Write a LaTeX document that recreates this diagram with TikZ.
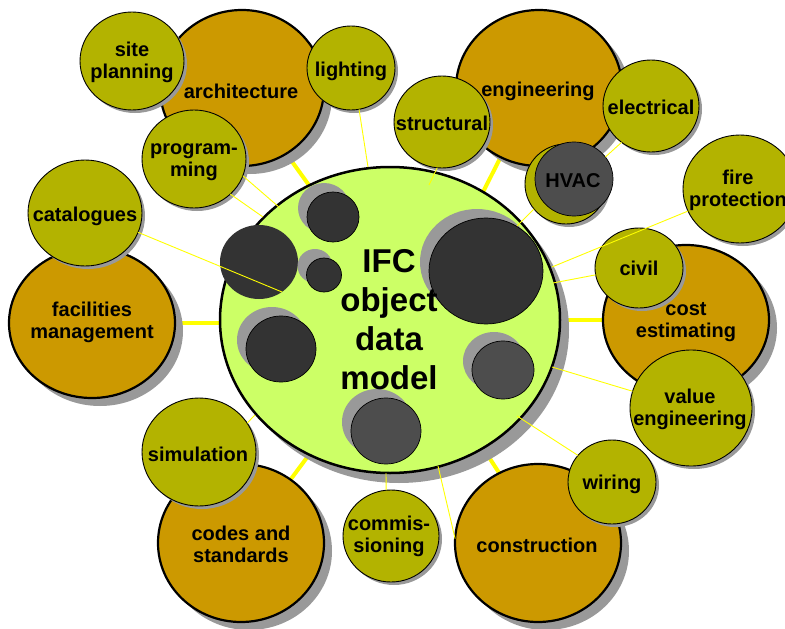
\documentclass[tikz,border=0pt]{standalone}
\usepackage{fontspec}
\setmainfont{Liberation Sans}
\usetikzlibrary{shapes.geometric,shadows}
\definecolor{orng}{HTML}{CC9900}
\definecolor{olv}{HTML}{B3B300}
\definecolor{limec}{HTML}{CCFF66}
\definecolor{dkA}{HTML}{333333}
\definecolor{dkB}{HTML}{4D4D4D}
\definecolor{shgray}{HTML}{999999}
\definecolor{yel}{HTML}{FFFF00}
\pgfdeclarelayer{background}
\pgfsetlayers{background,main}
\begin{document}
\begin{tikzpicture}[x=1pt,y=-1pt,
  ell/.style={ellipse, inner sep=0pt, outer sep=0pt},
  sz/.style n args={2}{minimum width=#1pt, minimum height=#2pt},
  orangec/.style={ell, fill=orng, draw=black, line width=2.2pt,
    drop shadow={shadow xshift=8pt, shadow yshift=-8pt, fill=shgray, draw=none, opacity=1}},
  olivec/.style={ell, fill=olv, draw=black, line width=0.9pt,
    drop shadow={shadow xshift=3pt, shadow yshift=-3pt, fill=shgray, draw=none, opacity=1}},
  mainc/.style={ell, fill=limec, draw=black, line width=2.5pt,
    drop shadow={shadow xshift=9pt, shadow yshift=-10pt, fill=shgray, draw=none, opacity=1}},
  darkc/.style={ell, fill=#1, draw=black, line width=0.7pt,
    drop shadow={shadow xshift=-9pt, shadow yshift=9pt, fill=shgray, draw=none, opacity=1}},
  lbl/.style={font=\bfseries\fontsize{20}{22}\selectfont, align=center, inner sep=0pt},
  ttl/.style={font=\bfseries\fontsize{33}{39}\selectfont, align=center, inner sep=0pt},
  thick link/.style={draw=yel, line width=4pt},
  thin link/.style={draw=yel, line width=0.9pt}
]
\useasboundingbox (0,0) rectangle (785,629);
\clip (0,0) rectangle (785,629);

% central model
\node[mainc, sz={340}{306}] (main) at (390,320) {};
\node[darkc=dkA, sz={52}{50}] (d1) at (333,217) {};
\node[ell, fill=dkA, sz={78}{74}] (d2) at (259,262) {};
\node[darkc=dkA, sz={35}{34}] (d3) at (324,275) {};
\node[darkc=dkA, sz={114}{106}] (d4) at (486,271) {};
\node[darkc=dkA, sz={70}{66}] (d5) at (281,349) {};
\node[darkc=dkB, sz={62}{58}] (d6) at (503,370) {};
\node[darkc=dkB, sz={70}{66}] (d7) at (386,431) {};
\node[ttl] (title) at (389,320) {IFC\\object\\data\\model};

% architecture group
\node[orangec, sz={164}{156}] (arch) at (242,88) {};
\node[lbl] (archT) at (241,91) {architecture};
\node[olivec, sz={104}{98}] (site) at (132,61) {};
\node[lbl] (siteT) at (132,62) {site\\planning};
\node[olivec, sz={88}{84}] (light) at (351,68) {};
\node[lbl] (lightT) at (351,71) {lighting};
\node[olivec, sz={104}{98}] (prog) at (194,159) {};
\node[lbl] (progT) at (194,162) {program-\\ming};

% engineering group
\node[orangec, sz={166}{156}] (eng) at (539,88) {};
\node[lbl] (engT) at (538,91) {engineering};
\node[olivec, sz={96}{92}] (struct) at (442,122) {};
\node[lbl] (structT) at (442,123) {structural};
\node[olivec, sz={96}{92}] (elec) at (651,106) {};
\node[lbl] (elecT) at (651,107) {electrical};
\node[olivec, sz={82}{80}] (hvacbg) at (566,184) {};
\node[ell, fill=dkB, draw=black, line width=0.7pt, sz={78}{74}] (hvac) at (574,179) {};
\node[lbl] (hvacT) at (573,181) {HVAC};

% facilities management
\node[orangec, sz={166}{150}] (fm) at (92,323) {};
\node[lbl] (fmT) at (92,322) {facilities\\management};
\node[olivec, sz={114}{106}] (cat) at (85,213) {};
\node[lbl] (catT) at (85,216) {catalogues};

% cost estimating
\node[orangec, sz={166}{150}] (cost) at (686,320) {};
\node[lbl] (costT) at (686,322) {cost\\estimating};
\node[olivec, sz={88}{80}] (civil) at (639,268) {};
\node[lbl] (civilT) at (639,268) {civil};
\node[olivec, sz={122}{116}] (value) at (691,408) {};
\node[lbl] (valueT) at (690,409) {value\\engineering};

% fire protection
\node[olivec, sz={114}{108}] (fire) at (740,189) {};
\node[lbl] (fireT) at (738,190) {fire\\protection};

% construction
\node[orangec, sz={166}{158}] (constr) at (538,543) {};
\node[lbl] (constrT) at (537,545) {construction};
\node[olivec, sz={88}{84}] (wiring) at (612,482) {};
\node[lbl] (wiringT) at (612,484) {wiring};

% commissioning
\node[olivec, sz={96}{92}] (comm) at (391,536) {};
\node[lbl] (commT) at (389,536) {commis-\\sioning};

% codes and standards
\node[orangec, sz={166}{158}] (codes) at (241,543) {};
\node[lbl] (codesT) at (241,544) {codes and\\standards};
\node[olivec, sz={114}{108}] (sim) at (199,452) {};
\node[lbl] (simT) at (198,454) {simulation};

% thick connectors (behind)
\begin{pgfonlayer}{background}
\draw[thick link] (arch.-56) -- (main.121);
\draw[thick link] (eng.-119) -- (main.54);
\draw[thick link] (fm.east) -- (fm.east -| main.west);
\draw[thick link] (cost.west) -- (cost.west -| main.east);
\draw[thick link] (constr.119) -- (main.-54);
\draw[thick link] (codes.52) -- (main.-121);
\end{pgfonlayer}

% thin connectors
\coordinate (pL) at (368,167);
\coordinate (pPa) at (280,208);
\coordinate (pPb) at (263,217);
\coordinate (pC) at (282,292);
\coordinate (pS) at (429,185);
\coordinate (pH) at (517,226);
\coordinate (pF) at (552,267);
\coordinate (pCv) at (553,283);
\coordinate (pV) at (552,367);
\coordinate (pW) at (517,416);
\coordinate (pK) at (438,466);
\coordinate (pM) at (386,473);
\coordinate (pSi) at (255,415);
\draw[thin link] (light.-79) -- (pL);
\draw[thin link] (prog.-19) -- (pPa);
\draw[thin link] (prog.-44) -- (pPb);
\draw[thin link] (cat.-20) -- (pC);
\draw[thin link] (struct.-96) -- (pS);
\draw[thin link] (elec.-129) -- (hvac.35);
\draw[thin link] (hvacbg.218) -- (pH);
\draw[thin link] (fire.203) -- (pF);
\draw[thin link] (civil.189) -- (pCv);
\draw[thin link] (value.164) -- (pV);
\draw[thin link] (wiring.142) -- (pW);
\draw[thin link] (constr.177) -- (pK);
\draw[thin link] (comm.96) -- (pM);
\draw[thin link] (sim.31) -- (pSi);
\end{tikzpicture}
\end{document}
